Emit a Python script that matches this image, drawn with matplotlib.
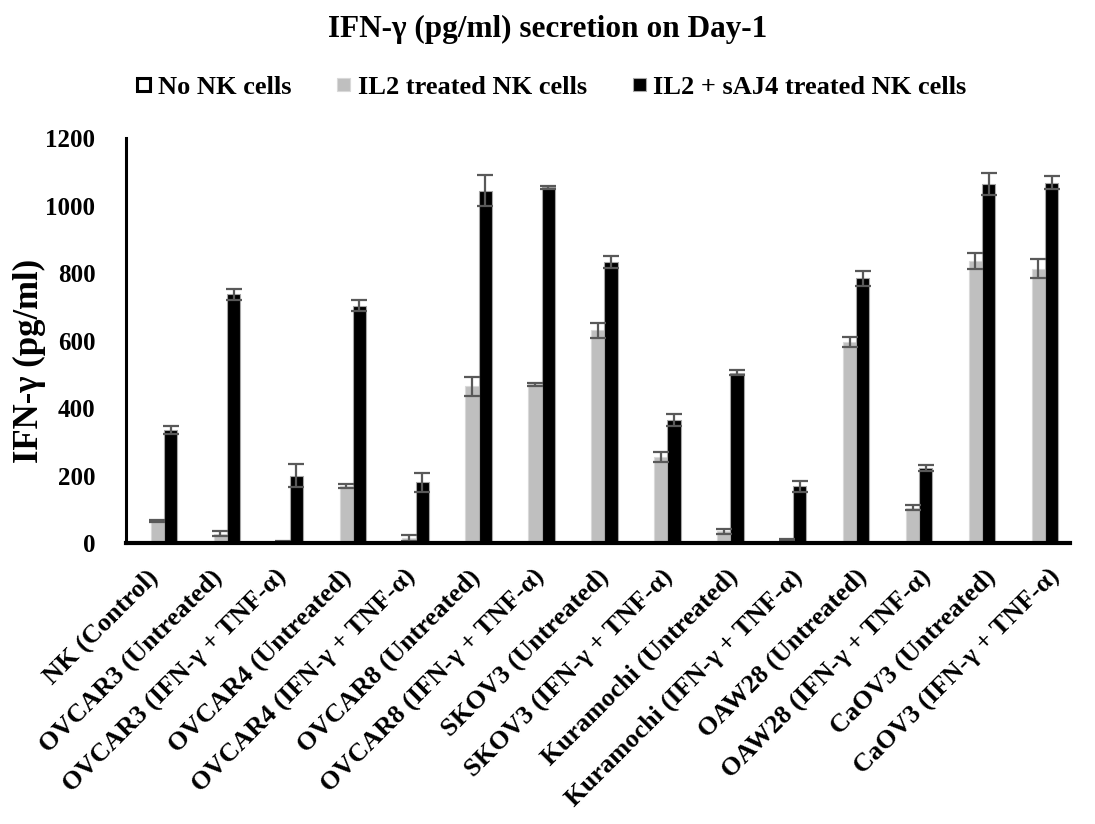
import matplotlib
matplotlib.use("Agg")
import matplotlib.pyplot as plt
import matplotlib.transforms as mtransforms
import numpy as np

categories = ["NK (Control)", "OVCAR3 (Untreated)", "OVCAR3 (IFN-γ + TNF-α)",
              "OVCAR4 (Untreated)", "OVCAR4 (IFN-γ + TNF-α)", "OVCAR8 (Untreated)",
              "OVCAR8 (IFN-γ + TNF-α)", "SKOV3 (Untreated)", "SKOV3 (IFN-γ + TNF-α)",
              "Kuramochi (Untreated)", "Kuramochi (IFN-γ + TNF-α)", "OAW28 (Untreated)",
              "OAW28 (IFN-γ + TNF-α)", "CaOV3 (Untreated)", "CaOV3 (IFN-γ + TNF-α)"]
no_nk = [0] * 15
il2 = [65, 28, 5, 170, 15, 465, 470, 630, 255, 35, 8, 595, 105, 836, 813]
il2_err = [3, 7, 2, 6, 10, 28, 5, 22, 15, 7, 3, 15, 7, 24, 28]
sj = [335, 737, 200, 703, 180, 1044, 1054, 832, 365, 505, 168, 784, 222, 1064, 1068]
sj_err = [12, 16, 35, 17, 28, 45, 5, 18, 18, 8, 17, 23, 10, 33, 19]
series_names = ["No NK cells", "IL2 treated NK cells", "IL2 + sAJ4 treated NK cells"]

plt.rcParams['font.family'] = ['Liberation Serif', 'DejaVu Serif']
plt.rcParams['font.weight'] = 'bold'

fig = plt.figure(figsize=(10.95, 8.24), dpi=100)
ax = fig.add_axes([0.115, 0.341, 0.862, 0.4915])

x = np.arange(len(categories))
w = 0.21
ekw = dict(ecolor='#595959', elinewidth=1.6, capsize=6, capthick=1.6)
ax.bar(x - w, no_nk, w, color='white', edgecolor='black', linewidth=2.2, label=series_names[0])
ax.bar(x, il2, w, color='#bfbfbf', edgecolor='#d9d9d9', linewidth=0.8,
       yerr=il2_err, error_kw=ekw, label=series_names[1])
ax.bar(x + w, sj, w, color='black', edgecolor='#a6a6a6', linewidth=0.8,
       yerr=sj_err, error_kw=ekw, label=series_names[2])

ax.set_xlim(-0.5, len(categories) - 0.5)
ax.set_ylim(0, 1200)
ax.set_yticks(range(0, 1201, 200))
ax.tick_params(axis='y', length=0, labelsize=18, pad=22)
ax.tick_params(axis='x', length=0, labelsize=19, pad=16)
ax.set_xticks(x)
ax.set_xticklabels(categories, rotation=45, ha='right', va='top',
                   rotation_mode='anchor', fontweight='bold')
for i, lab in enumerate(ax.get_xticklabels()):
    dx = (-11 + 1.5 * i) / 100
    lab.set_transform(lab.get_transform() + mtransforms.ScaledTranslation(dx, 0, fig.dpi_scale_trans))
for lab in ax.get_yticklabels():
    lab.set_fontweight('bold')
ax.spines['top'].set_visible(False)
ax.spines['right'].set_visible(False)
ax.spines['left'].set_linewidth(2.2)
ax.spines['bottom'].set_linewidth(3)
ax.set_ylabel("IFN-γ (pg/ml)", fontsize=25, fontweight='bold')
ax.yaxis.set_label_coords(-0.085, 0.45)

fig.suptitle("IFN-γ (pg/ml) secretion on Day-1", fontsize=22.5, fontweight='bold', y=0.982)
leg = fig.legend(loc='center', bbox_to_anchor=(0.504, 0.894), ncol=3, frameon=False,
                 fontsize=19, handlelength=0.5, handleheight=0.38, handletextpad=0.27,
                 columnspacing=1.75)
for t in leg.get_texts():
    t.set_fontweight('bold')

fig.savefig("out.png", dpi=100)
